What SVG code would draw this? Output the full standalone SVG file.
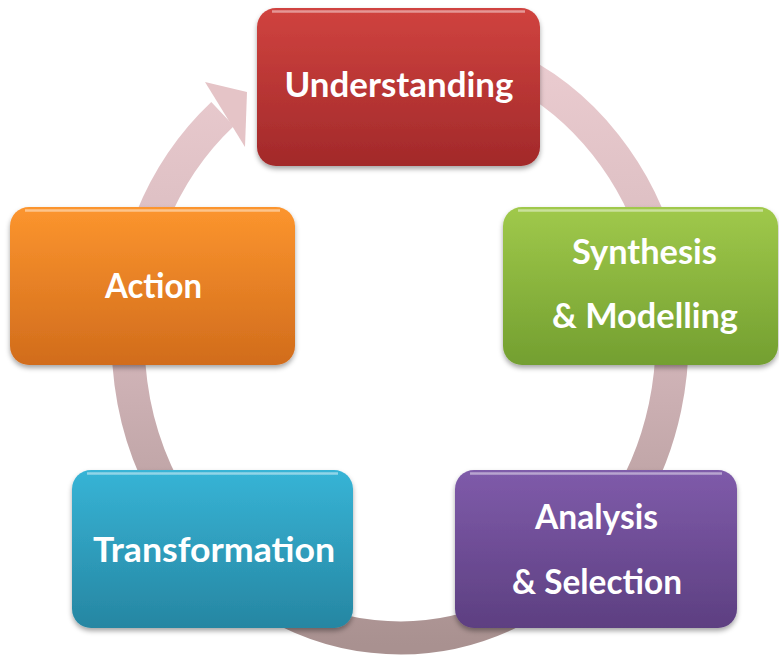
<svg xmlns="http://www.w3.org/2000/svg" width="779" height="659" viewBox="0 0 779 659">
  <defs>
    <linearGradient id="ringG" gradientUnits="userSpaceOnUse" x1="0" y1="40" x2="0" y2="645">
      <stop offset="0" stop-color="#eccdd1"/>
      <stop offset="0.5" stop-color="#d3b6ba"/>
      <stop offset="1" stop-color="#a99190"/>
    </linearGradient>
    <linearGradient id="gRed" x1="0" y1="0" x2="0" y2="1">
      <stop offset="0" stop-color="#d0433f"/>
      <stop offset="1" stop-color="#a2292a"/>
    </linearGradient>
    <linearGradient id="gGreen" x1="0" y1="0" x2="0" y2="1">
      <stop offset="0" stop-color="#a0c94b"/>
      <stop offset="1" stop-color="#739f30"/>
    </linearGradient>
    <linearGradient id="gPurple" x1="0" y1="0" x2="0" y2="1">
      <stop offset="0" stop-color="#7f5baa"/>
      <stop offset="1" stop-color="#5d3f81"/>
    </linearGradient>
    <linearGradient id="gBlue" x1="0" y1="0" x2="0" y2="1">
      <stop offset="0" stop-color="#37b4d6"/>
      <stop offset="1" stop-color="#2686a2"/>
    </linearGradient>
    <linearGradient id="gOrange" x1="0" y1="0" x2="0" y2="1">
      <stop offset="0" stop-color="#fc952e"/>
      <stop offset="1" stop-color="#d16c1c"/>
    </linearGradient>
    <filter id="sh" x="-10%" y="-10%" width="120%" height="130%">
      <feDropShadow dx="0" dy="3" stdDeviation="2.5" flood-color="#000" flood-opacity="0.35"/>
    </filter>
    <style>
      .box { filter: url(#sh); }
      .hl { fill: none; stroke: #ffffff; stroke-opacity: 0.45; stroke-width: 2.5; }
      .lbl { font-family: Lato, "Open Sans", "Liberation Sans", sans-serif; font-weight: 700; font-size: 34px; fill: #ffffff; text-anchor: middle; }
      .ring { fill: none; stroke: url(#ringG); stroke-width: 33; }
    </style>
  </defs>
  <rect width="779" height="659" fill="#ffffff"/>

  <g id="connectors">
    <path class="ring" d="M 376.3 43.1 A 272 298 0 1 1 222.6 114.1"/>
    <polygon points="205,82 247,92 245,147" fill="#e5c4c7"/>
  </g>

  <g id="node-understanding">
    <rect class="box" x="257" y="8" width="283" height="158" rx="19" fill="url(#gRed)"/>
    <path class="hl" d="M 272 11.5 H 525"/>
    <text class="lbl" x="399" y="97" textLength="229" lengthAdjust="spacingAndGlyphs">Understanding</text>
  </g>

  <g id="node-synthesis">
    <rect class="box" x="503" y="207" width="275" height="158" rx="19" fill="url(#gGreen)"/>
    <path class="hl" d="M 518 210.5 H 763"/>
    <text class="lbl" x="644.5" y="264" textLength="145" lengthAdjust="spacingAndGlyphs">Synthesis</text>
    <text class="lbl" x="645" y="328" textLength="186" lengthAdjust="spacingAndGlyphs">&amp; Modelling</text>
  </g>

  <g id="node-analysis">
    <rect class="box" x="455" y="470" width="282" height="158" rx="19" fill="url(#gPurple)"/>
    <path class="hl" d="M 470 473.5 H 722"/>
    <text class="lbl" x="596.5" y="529" textLength="123" lengthAdjust="spacingAndGlyphs">Analysis</text>
    <text class="lbl" x="597" y="594" textLength="170" lengthAdjust="spacingAndGlyphs">&amp; Selection</text>
  </g>

  <g id="node-transformation">
    <rect class="box" x="72" y="470" width="281" height="158" rx="19" fill="url(#gBlue)"/>
    <path class="hl" d="M 87 473.5 H 338"/>
    <text class="lbl" x="214" y="562" textLength="242" lengthAdjust="spacingAndGlyphs">Transformation</text>
  </g>

  <g id="node-action">
    <rect class="box" x="10" y="207" width="285" height="158" rx="19" fill="url(#gOrange)"/>
    <path class="hl" d="M 25 210.5 H 280"/>
    <text class="lbl" x="153.5" y="298" textLength="97" lengthAdjust="spacingAndGlyphs">Action</text>
  </g>
</svg>
